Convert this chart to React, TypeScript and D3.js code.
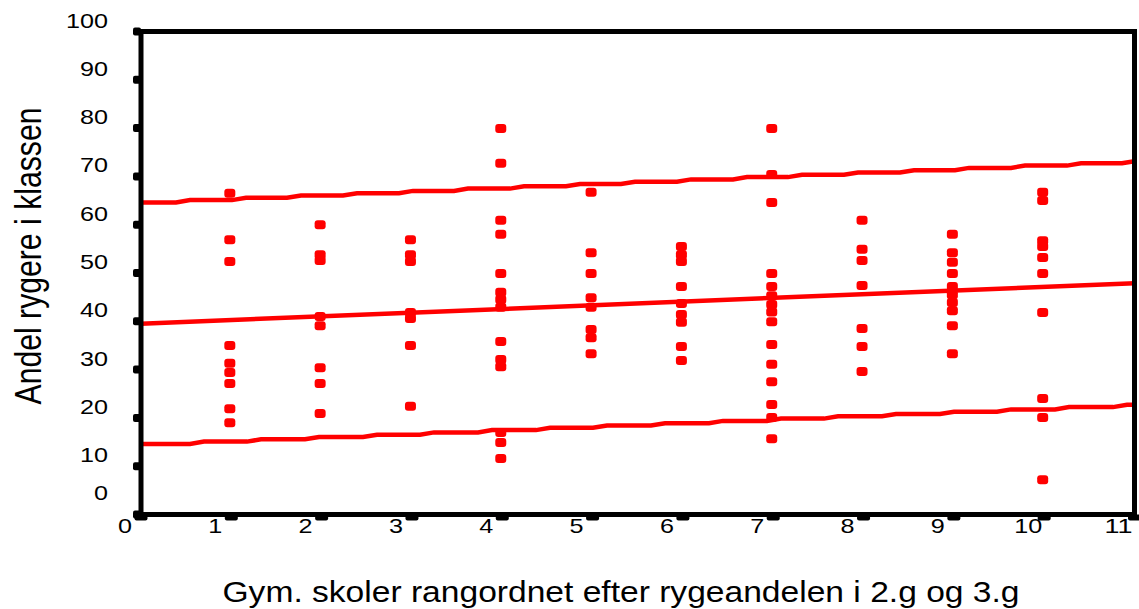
import React from "react";
import * as d3 from "d3";

// ---- data ----
const schools = [1, 2, 3, 4, 5, 6, 7, 8, 9, 10];
const school1 = [66.5, 56.9, 52.4, 35.0, 31.3, 29.4, 27.1, 21.9, 19.0];
const school2 = [60.0, 53.8, 52.6, 41.0, 39.1, 30.4, 27.1, 20.9];
const school3 = [56.9, 53.8, 52.4, 41.8, 40.6, 35.0, 22.4];
const school4 = [79.9, 72.7, 60.9, 58.0, 49.9, 46.0, 44.5, 42.9, 35.8, 32.1, 30.6, 17.0, 14.9, 11.6];
const school5 = [66.7, 54.2, 49.9, 44.9, 42.9, 38.3, 36.6, 33.3];
const school6 = [55.5, 53.8, 52.4, 47.2, 43.7, 41.4, 39.8, 34.8, 31.9];
const school7 = [79.9, 70.4, 64.6, 49.9, 47.2, 45.3, 43.5, 41.9, 39.9, 35.2, 31.1, 27.5, 22.8, 20.1, 15.7];
const school8 = [60.9, 54.9, 52.6, 47.4, 38.5, 34.8, 29.6];
const school9 = [58.0, 54.2, 52.2, 49.9, 47.2, 45.5, 43.9, 42.2, 39.1, 33.3];
const school10 = [66.7, 65.0, 56.7, 55.5, 53.2, 49.9, 41.8, 24.0, 20.1, 7.2];
const schoolValues = [school1, school2, school3, school4, school5, school6, school7, school8, school9, school10];

// regression line and band endpoints (at x = 0 and x = 11)
const lineX = [0, 11];
const fitLine = [39.5, 47.9];
const upperBand = [64.5, 73.0];
const lowerBand = [14.4, 22.6];

const xTicks = [0, 1, 2, 3, 4, 5, 6, 7, 8, 9, 10, 11];
const yTicks = [0, 10, 20, 30, 40, 50, 60, 70, 80, 90, 100];
const xTitle = "Gym. skoler rangordnet efter rygeandelen i 2.g og 3.g";
const yTitle = "Andel rygere i klassen";

const W = 1139;
const H = 609;
const FONT = "'Liberation Sans', Arial, sans-serif";
const RED = "#ff0000";

export default function App() {
  const x = d3.scaleLinear().domain([0, 11]).range([141, 1134.5]);
  const y = d3.scaleLinear().domain([0, 100]).range([514.5, 31.5]);

  const points = schools.flatMap((s, i) => schoolValues[i].map((v) => ({ s, v })));

  // stepped band path (quantized pixel rendering like the original)
  const steppedPath = (vals: number[]) => {
    const x0 = x(lineX[0]);
    const x1 = x(lineX[1]);
    const yAt = d3.scaleLinear().domain([x0, x1]).range([y(vals[0]), y(vals[1])]);
    const q = 2.3;
    const pts: [number, number][] = [];
    let prev = Math.round(yAt(x0) / q) * q;
    pts.push([x0, prev]);
    for (let px = x0; px <= x1; px += 1) {
      const cur = Math.round(yAt(px) / q) * q;
      if (cur !== prev) {
        pts.push([px - 7, prev]);
        pts.push([px + 7, cur]);
        prev = cur;
      }
    }
    pts.push([x1, prev]);
    return d3.line()(pts) || "";
  };

  const straight = d3
    .line<number>()
    .x((_, i) => x(lineX[i]))
    .y((d) => y(d));

  return (
    <svg
      width={W}
      height={H}
      style={{ position: "absolute", left: 0, top: 0, background: "#fff" }}
    >
      <rect x={0} y={0} width={W} height={H} fill="#fff" />

      {/* regression line and bands */}
      <path d={steppedPath(upperBand)} fill="none" stroke={RED} strokeWidth={4.5} />
      <path d={steppedPath(lowerBand)} fill="none" stroke={RED} strokeWidth={4.5} />
      <path d={straight(fitLine) || ""} fill="none" stroke={RED} strokeWidth={4.5} />

      {/* points */}
      {points.map((p, i) => (
        <rect
          key={i}
          x={x(p.s) - 1.5 - 5.5}
          y={y(p.v) - 4.5}
          width={11}
          height={9}
          rx={3}
          fill={RED}
        />
      ))}

      {/* frame */}
      <rect
        x={x(0)}
        y={y(100)}
        width={x(11) - x(0)}
        height={y(0) - y(100)}
        fill="none"
        stroke="#000"
        strokeWidth={5}
      />

      {/* y ticks */}
      {yTicks.map((t) => (
        <rect key={"yt" + t} x={x(0) - 8} y={y(t) - 4} width={8} height={8} rx={2} fill="#000" />
      ))}
      {/* x ticks */}
      {xTicks.map((t) => (
        <rect key={"xt" + t} x={x(t) - 6.5} y={y(0)} width={13} height={6} rx={2} fill="#000" />
      ))}

      {/* y tick labels */}
      {yTicks.map((t) => (
        <text
          key={"yl" + t}
          x={108}
          y={t === 0 ? y(t) - 15 : y(t) - 4}
          textAnchor="end"
          fontFamily={FONT}
          fontSize={21}
          textLength={14 * String(t).length}
          lengthAdjust="spacingAndGlyphs"
          fill="#000"
        >
          {t}
        </text>
      ))}

      {/* x tick labels */}
      {xTicks.map((t) => (
        <text
          key={"xl" + t}
          x={x(t) - 16}
          y={533}
          textAnchor="middle"
          fontFamily={FONT}
          fontSize={21}
          textLength={14 * String(t).length}
          lengthAdjust="spacingAndGlyphs"
          fill="#000"
        >
          {t}
        </text>
      ))}

      {/* axis titles */}
      <text
        x={621}
        y={602}
        textAnchor="middle"
        fontFamily={FONT}
        fontSize={30}
        textLength={797}
        lengthAdjust="spacingAndGlyphs"
        fill="#000"
      >
        {xTitle}
      </text>
      <text
        transform="translate(41,256) rotate(-90)"
        textAnchor="middle"
        fontFamily={FONT}
        fontSize={37}
        textLength={297}
        lengthAdjust="spacingAndGlyphs"
        fill="#000"
      >
        {yTitle}
      </text>
    </svg>
  );
}
